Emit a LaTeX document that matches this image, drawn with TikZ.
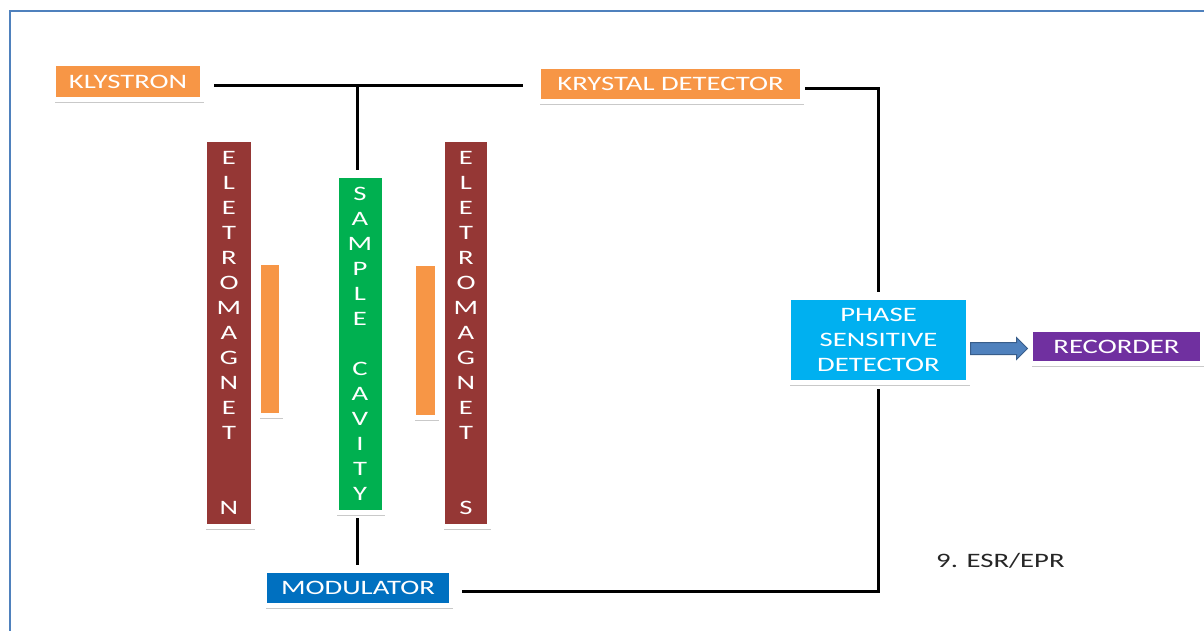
\documentclass[tikz,border=0pt]{standalone}
\usepackage{fontspec}
\setmainfont{Carlito}
\newfontfamily\slidefont[FakeStretch=1.4]{Carlito}
\usetikzlibrary{arrows.meta,positioning,calc,shapes.arrows,shadows}
\definecolor{slideorange}{RGB}{247,150,70}
\definecolor{magnetred}  {RGB}{149,55,53}
\definecolor{cavitygreen}{RGB}{0,176,80}
\definecolor{psdcyan}    {RGB}{0,176,240}
\definecolor{recpurple}  {RGB}{112,48,160}
\definecolor{modblue}    {RGB}{0,112,192}
\definecolor{framblue}   {RGB}{79,129,189}
\definecolor{arrowedge}  {RGB}{56,93,138}

\begin{document}
\begin{tikzpicture}[x=1pt,y=-1pt,
  every node/.style={font=\slidefont\fontsize{20.5}{25}\selectfont,text=white},
  blk/.style={draw=white,line width=5pt,inner sep=0pt,align=center,
              drop shadow={shadow xshift=1pt,shadow yshift=-3pt,
                           opacity=0.3,fill=black!70}},
  wire/.style={line width=3pt,black},
  blockarr/.style={single arrow,fill=framblue,draw=arrowedge,line width=1pt,
                   minimum height=57pt,inner sep=5.5pt,
                   single arrow head extend=5pt,single arrow head indent=0pt},
]
\useasboundingbox (0,0) rectangle (1204,630);

%% ── slide frame ──────────────────────────────────────────────────────────
\draw[framblue,line width=2pt] (10,11) rectangle (1230,660);

%% ── top row: source and detector ─────────────────────────────────────────
\node[blk,fill=slideorange,minimum width=149,minimum height=36] (kly)
  at (128,81.5) {KLYSTRON};
\node[blk,fill=slideorange,minimum width=264,minimum height=35] (kd)
  at (670.5,84) {KRYSTAL DETECTOR};

%% ── magnets and cavity ───────────────────────────────────────────────────
\node[blk,fill=magnetred,minimum width=49,minimum height=387] (emn)
  at (229,333) {E\\L\\E\\T\\R\\O\\M\\A\\G\\N\\E\\T\\~\\~\\N};
\node[blk,fill=slideorange,minimum width=23,minimum height=153] (poln)
  at (270,339) {};
\node[blk,fill=cavitygreen,minimum width=48,minimum height=337] (cav)
  at (360,344) {S\\A\\M\\P\\L\\E\\~\\C\\A\\V\\I\\T\\Y};
\node[blk,fill=slideorange,minimum width=24,minimum height=154] (pols)
  at (425.5,340.5) {};
\node[blk,fill=magnetred,minimum width=47,minimum height=387] (ems)
  at (466,333) {E\\L\\E\\T\\R\\O\\M\\A\\G\\N\\E\\T\\~\\~\\S};

%% ── signal chain ─────────────────────────────────────────────────────────
\node[blk,fill=psdcyan,minimum width=180,minimum height=85] (psd)
  at (878.5,340) {PHASE\\SENSITIVE\\DETECTOR};
\node[blk,fill=recpurple,minimum width=172,minimum height=34] (rec)
  at (1116.5,346.5) {RECORDER};
\node[blk,fill=modblue,minimum width=187,minimum height=35] (mod)
  at (358,588) {MODULATOR};
\node[blockarr,anchor=tail] (arr) at ([xshift=-1pt,yshift=-8.5pt]psd.east) {};

\node[text=black!85,anchor=west,inner sep=0pt] (title) at (936,561) {9. ESR/EPR};

%% ── wiring ───────────────────────────────────────────────────────────────
\coordinate (jn) at (357,85);
\draw[wire,shorten <=9pt,shorten >=13pt] (kly.east |- jn) -- (kd.west |- jn);
\draw[wire,shorten >=3pt] (jn) -- (jn |- cav.north);
\draw[wire,shorten <=3pt,shorten >=3pt] (jn |- cav.south) -- (jn |- mod.north);
\draw[wire,shorten >=3pt] ([yshift=-4pt]kd.east) -| (psd.north);
\draw[wire,shorten <=4pt,shorten >=8pt] (psd.south) |- ([yshift=-3pt]mod.east);

\end{tikzpicture}
\end{document}
